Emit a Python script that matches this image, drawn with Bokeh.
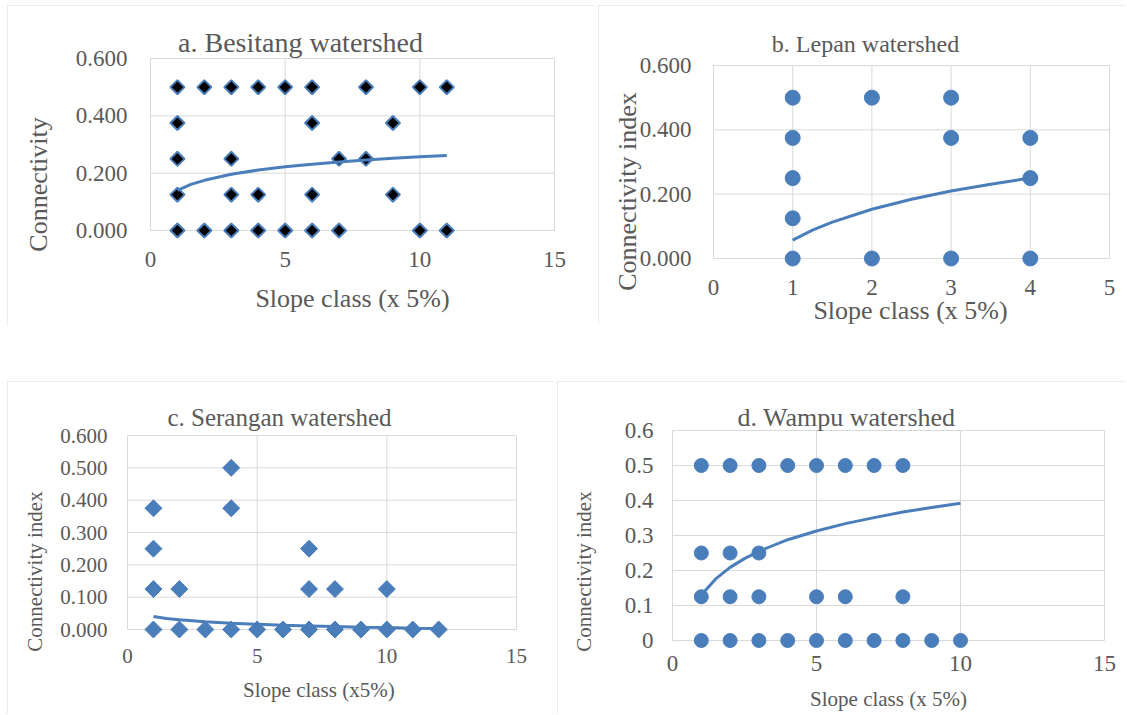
import numpy as np
from bokeh.plotting import figure
from bokeh.models import Label, FixedTicker, NumeralTickFormatter, Range1d, Spacer
from bokeh.layouts import row, column
from bokeh.embed import file_html
from bokeh.resources import INLINE

# ---------------- data ----------------
# a. Besitang watershed
besitang_x = [1, 2, 3, 4, 5, 6, 8, 10, 11,
              1, 6, 9,
              1, 3, 7, 8,
              1, 3, 4, 6, 9,
              1, 2, 3, 4, 5, 6, 7, 10, 11]
besitang_y = [0.5, 0.5, 0.5, 0.5, 0.5, 0.5, 0.5, 0.5, 0.5,
              0.375, 0.375, 0.375,
              0.25, 0.25, 0.25, 0.25,
              0.125, 0.125, 0.125, 0.125, 0.125,
              0.0, 0.0, 0.0, 0.0, 0.0, 0.0, 0.0, 0.0, 0.0]
besitang_trend_x = [1, 1.5, 2, 3, 4, 5, 6, 7, 8, 9, 10, 11]
besitang_trend_y = [0.140, 0.161, 0.175, 0.196, 0.211, 0.222, 0.231, 0.239, 0.246, 0.252, 0.257, 0.262]

# b. Lepan watershed
lepan_x = [1, 2, 3, 1, 3, 4, 1, 4, 1, 1, 2, 3, 4]
lepan_y = [0.5, 0.5, 0.5, 0.375, 0.375, 0.375, 0.25, 0.25, 0.125, 0.0, 0.0, 0.0, 0.0]
lepan_trend_x = [1, 1.25, 1.5, 2, 2.5, 3, 3.5, 4]
lepan_trend_y = [0.057, 0.088, 0.113, 0.153, 0.184, 0.210, 0.231, 0.250]

# c. Serangan watershed
serangan_x = [4, 1, 4, 1, 7, 1, 2, 7, 8, 10,
              1, 2, 3, 4, 5, 6, 7, 8, 9, 10, 11, 12]
serangan_y = [0.5, 0.375, 0.375, 0.25, 0.25, 0.125, 0.125, 0.125, 0.125, 0.125,
              0.0, 0.0, 0.0, 0.0, 0.0, 0.0, 0.0, 0.0, 0.0, 0.0, 0.0, 0.0]
serangan_trend_x = [1, 1.5, 2, 3, 4, 5, 6, 7, 8, 9, 10, 11, 12]
serangan_trend_y = [0.040, 0.034, 0.030, 0.024, 0.019, 0.016, 0.013, 0.011, 0.009, 0.007, 0.006, 0.004, 0.003]

# d. Wampu watershed
wampu_x = [1, 2, 3, 4, 5, 6, 7, 8,
           1, 2, 3,
           1, 2, 3, 5, 6, 8,
           1, 2, 3, 4, 5, 6, 7, 8, 9, 10]
wampu_y = [0.5, 0.5, 0.5, 0.5, 0.5, 0.5, 0.5, 0.5,
           0.25, 0.25, 0.25,
           0.125, 0.125, 0.125, 0.125, 0.125, 0.125,
           0.0, 0.0, 0.0, 0.0, 0.0, 0.0, 0.0, 0.0, 0.0, 0.0]
wampu_trend_x = [1, 1.5, 2, 2.5, 3, 4, 5, 6, 7, 8, 9, 10]
wampu_trend_y = [0.130, 0.176, 0.209, 0.234, 0.255, 0.288, 0.313, 0.334, 0.351, 0.367, 0.380, 0.392]

ticks_x_15 = [0, 5, 10, 15]
ticks_x_5 = [0, 1, 2, 3, 4, 5]
ticks_y_ab = [0.0, 0.2, 0.4, 0.6]
ticks_y_cd = [0.0, 0.1, 0.2, 0.3, 0.4, 0.5, 0.6]

# ---------------- style ----------------
FONT = "Liberation Serif"
TXT = "#595959"
GRID = "#d9d9d9"
BLUE = "#4a7ebb"


def panel(box, xmax, xpx, ymax, ypx, xticks, yticks, yfmt, tick_fs, ystand, xstand,
          title, title_fs, title_pos, xlabel, xlabel_fs, xlabel_pos,
          ylabel, ylabel_fs, ylabel_pos):
    """box = (left, top, width, height) of the chart area on the page;
    xpx / ypx = page pixel of 0 and of the axis maximum."""
    bx, by, bw, bh = box
    kx = (xpx[1] - xpx[0]) / xmax
    ky = (ypx[0] - ypx[1]) / ymax
    x_start = -(xpx[0] - bx) / kx
    x_end = xmax + (bx + bw - xpx[1]) / kx
    y_start = -(by + bh - ypx[0]) / ky
    y_end = ymax + (ypx[1] - by) / ky

    def to_data(px, py):
        return (px - xpx[0]) / kx, (ypx[0] - py) / ky

    p = figure(width=bw, height=bh, output_backend="svg", toolbar_location=None,
               x_range=Range1d(x_start, x_end), y_range=Range1d(y_start, y_end),
               min_border=0, min_border_left=0, min_border_right=0,
               min_border_top=0, min_border_bottom=0,
               background_fill_color="white", border_fill_color="white",
               styles={"outline": "1px solid #d9d9d9", "outline-offset": "-1px"})
    p.outline_line_color = None
    p.xgrid.visible = False
    p.ygrid.visible = False
    for ax in (p.xaxis[0], p.yaxis[0]):
        ax.fixed_location = 0
        ax.axis_line_color = None
        ax.major_tick_line_color = None
        ax.minor_tick_line_color = None
        ax.major_label_text_font = FONT
        ax.major_label_text_color = TXT
        ax.major_label_text_font_size = f"{tick_fs}px"
    p.xaxis[0].ticker = FixedTicker(ticks=xticks)
    p.yaxis[0].ticker = FixedTicker(ticks=yticks)
    p.yaxis[0].formatter = NumeralTickFormatter(format=yfmt)
    p.yaxis[0].major_label_standoff = ystand
    p.xaxis[0].major_label_standoff = xstand

    # gridlines (Excel style box)
    p.segment(x0=xticks, y0=0, x1=xticks, y1=ymax, line_color=GRID, line_width=1)
    p.segment(x0=0, y0=yticks, x1=xmax, y1=yticks, line_color=GRID, line_width=1)

    tx, ty = to_data(*title_pos)
    p.add_layout(Label(x=tx, y=ty, text=title, text_font=FONT, text_font_size=f"{title_fs}px",
                       text_color=TXT, text_align="center", text_baseline="middle"))
    lx, ly = to_data(*xlabel_pos)
    p.add_layout(Label(x=lx, y=ly, text=xlabel, text_font=FONT, text_font_size=f"{xlabel_fs}px",
                       text_color=TXT, text_align="center", text_baseline="middle"))
    yx, yy = to_data(*ylabel_pos)
    p.add_layout(Label(x=yx, y=yy, text=ylabel, text_font=FONT, text_font_size=f"{ylabel_fs}px",
                       text_color=TXT, text_align="center", text_baseline="middle", angle=np.pi / 2))
    return p


# a : chart area x 7..595, y 5..326
pa = panel((7, 5, 588, 321), 15, (150, 554), 0.6, (230, 58), ticks_x_15, ticks_y_ab, "0.000",
           23, 17, 15,
           "a. Besitang watershed", 28, (300, 42),
           "Slope class (x 5%)", 26, (352, 298),
           "Connectivity", 26, (38, 184))
pa.scatter(besitang_x, besitang_y, marker="square", angle=np.pi / 4, size=10,
           fill_color="black", line_color=BLUE, line_width=2)
pa.line(besitang_trend_x, besitang_trend_y, line_color=BLUE, line_width=3)

# b : chart area x 598..1126, y 5..324
pb = panel((598, 5, 528, 319), 5, (713, 1109), 0.6, (258, 65), ticks_x_5, ticks_y_ab, "0.000",
           23, 16, 15,
           "b. Lepan watershed", 24, (865, 43),
           "Slope class (x 5%)", 26, (910, 310),
           "Connectivity index", 26, (627, 191))
pb.scatter(lepan_x, lepan_y, marker="circle", size=15, fill_color=BLUE, line_color=BLUE)
pb.line(lepan_trend_x, lepan_trend_y, line_color=BLUE, line_width=3)

# c : chart area x 7..554, y 381..714
pc = panel((7, 381, 547, 333), 15, (127, 516), 0.6, (629, 435), ticks_x_15, ticks_y_cd, "0.000",
           21, 14, 13,
           "c. Serangan watershed", 25, (279, 417),
           "Slope  class (x5%)", 21, (321, 689),
           "Connectivity index", 21, (34, 571))
pc.scatter(serangan_x, serangan_y, marker="square", angle=np.pi / 4, size=12,
           fill_color=BLUE, line_color=BLUE)
pc.line(serangan_trend_x, serangan_trend_y, line_color=BLUE, line_width=3)

# d : chart area x 557..1126, y 381..714
pd_ = panel((557, 381, 569, 333), 15, (672, 1104), 0.6, (640, 430), ticks_x_15, ticks_y_cd, "0.[0]",
            23, 13, 9,
            "d. Wampu watershed", 26, (846, 417),
            "Slope class (x 5%)", 21, (888, 698),
            "Connectivity index", 21, (583, 571))
pd_.scatter(wampu_x, wampu_y, marker="circle", size=14, fill_color=BLUE, line_color=BLUE)
pd_.line(wampu_trend_x, wampu_trend_y, line_color=BLUE, line_width=3)

layout = column(
    Spacer(height=5),
    row(Spacer(width=7), pa, Spacer(width=3), pb),
    Spacer(height=55),
    row(Spacer(width=7), pc, Spacer(width=3), pd_),
)

open("out.html", "w").write(file_html(layout, INLINE))
